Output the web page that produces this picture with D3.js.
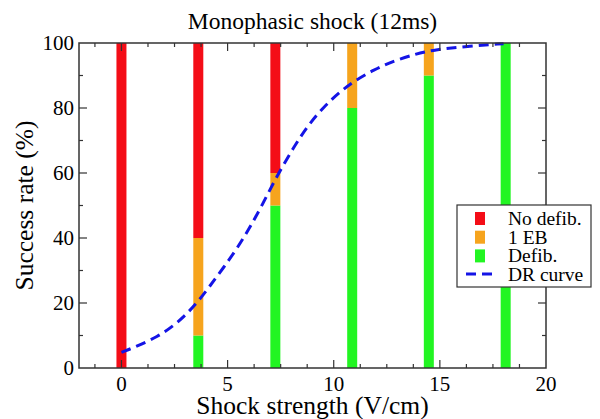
<!DOCTYPE html>
<html>
<head>
<meta charset="utf-8">
<script src="https://cdn.jsdelivr.net/npm/d3@7"></script>
</head>
<body style="margin:0">
<svg width="600" height="419"></svg>
<script>
// shock strengths (V/cm) and outcome shares (%)
var strengths = [0, 3.62, 7.25, 10.87, 14.48, 18.1];
var defib   = [0, 10, 50, 80, 90, 100];
var oneEB   = [0, 30, 10, 20, 10, 0];
var noDefib = [100, 60, 40, 0, 0, 0];

// dose-response curve
var drX = [0, 0.7, 1.7, 2.5, 3.1, 3.6, 4.2, 4.8, 5.5, 6.1, 6.7, 7.3, 8.1, 8.75, 9.5, 10.3, 10.95, 11.9, 12.8, 13.85, 14.7, 16.3, 18];
var drY = [4.8, 6.6, 9.6, 13.2, 16.8, 20.4, 25.5, 30.8, 37.3, 43.8, 51, 58.8, 67.8, 74.3, 80.2, 85, 88.2, 91.8, 94.4, 96.6, 97.9, 99, 99.8];

var xTicks = [0, 5, 10, 15, 20];
var yTicks = [0, 20, 40, 60, 80, 100];
var legendNames = ['No defib.', '1 EB', 'Defib.', 'DR curve'];

var red = '#f40d17', orange = '#f6a41d', green = '#22f522', blue = '#1414e6';

var svg = d3.select('svg');
var pl = 79, pr = 546, pt = 43, pb = 368;

var x = d3.scaleLinear().domain([-2, 20]).range([pl, pr]);
var y = d3.scaleLinear().domain([0, 100]).range([pb, pt]);

function label(px, py, str, size, anchor){
  return svg.append('text').attr('x', px).attr('y', py).attr('text-anchor', anchor || 'start')
    .style('font-family', '"Times New Roman"').style('font-size', size + 'px').text(str);
}

// bars (stacked: defib, 1 EB, no defib)
var bw = 10;
strengths.forEach(function(s, i){
  var parts = [[defib[i], green], [oneEB[i], orange], [noDefib[i], red]];
  var base = 0;
  parts.forEach(function(p){
    if (p[0] > 0) {
      svg.append('rect').attr('x', x(s) - bw/2).attr('width', bw)
        .attr('y', y(base + p[0])).attr('height', y(base) - y(base + p[0]))
        .attr('fill', p[1]);
    }
    base += p[0];
  });
});

// curve
var pts = drX.map(function(d, i){ return [d, drY[i]]; });
svg.append('path').datum(pts)
  .attr('d', d3.line().x(function(d){return x(d[0]);}).y(function(d){return y(d[1]);}).curve(d3.curveBasis))
  .attr('fill', 'none').attr('stroke', blue).attr('stroke-width', 3)
  .attr('stroke-dasharray', '10,6');

// frame
svg.append('rect').attr('x', pl).attr('y', pt).attr('width', pr - pl).attr('height', pb - pt)
  .attr('fill', 'none').attr('stroke', '#333').attr('stroke-width', 1.5);

// ticks, inward on all sides
var xMinor = d3.range(-1.25, 20, 1.25);
var yMinor = d3.range(10, 100, 10);
var tk = svg.append('g').attr('stroke', '#333').attr('stroke-width', 1.2);
xMinor.forEach(function(v){
  var major = xTicks.indexOf(v) >= 0, len = major ? 8 : 4;
  tk.append('line').attr('x1', x(v)).attr('x2', x(v)).attr('y1', pb).attr('y2', pb - len);
  tk.append('line').attr('x1', x(v)).attr('x2', x(v)).attr('y1', pt).attr('y2', pt + len);
});
yMinor.forEach(function(v){
  var major = yTicks.indexOf(v) >= 0, len = major ? 8 : 4;
  tk.append('line').attr('x1', pl).attr('x2', pl + len).attr('y1', y(v)).attr('y2', y(v));
  tk.append('line').attr('x1', pr).attr('x2', pr - len).attr('y1', y(v)).attr('y2', y(v));
});

// tick labels
xTicks.forEach(function(v){ label(x(v), 391, v, 21, 'middle'); });
yTicks.forEach(function(v){ label(74, y(v) + 7, v, 21, 'end'); });

// titles
label((pl + pr)/2, 29, 'Monophasic shock (12ms)', 23.5, 'middle');
label((pl + pr)/2, 414, 'Shock strength (V/cm)', 25.5, 'middle');
svg.append('text').attr('transform', 'translate(33,' + ((pt + pb)/2) + ') rotate(-90)')
  .attr('text-anchor', 'middle').style('font-family', '"Times New Roman"').style('font-size', '25.5px')
  .text('Success rate (%)');

// legend
var lg = svg.append('g');
lg.append('rect').attr('x', 457).attr('y', 205).attr('width', 134).attr('height', 82)
  .attr('fill', '#fff').attr('stroke', '#333').attr('stroke-width', 1.2);
var legColors = [red, orange, green];
legendNames.forEach(function(n, i){
  var cy = 218 + i * 18.7;
  if (i < 3) {
    lg.append('rect').attr('x', 475).attr('y', cy - 6).attr('width', 10).attr('height', 13).attr('fill', legColors[i]);
  } else {
    lg.append('line').attr('x1', 466).attr('x2', 495).attr('y1', cy).attr('y2', cy)
      .attr('stroke', blue).attr('stroke-width', 3).attr('stroke-dasharray', '10,6');
  }
  svg.append('text').attr('x', 508).attr('y', cy + 7).style('font-family', '"Times New Roman"')
    .style('font-size', '19.5px').text(n);
});
</script>
</body>
</html>
